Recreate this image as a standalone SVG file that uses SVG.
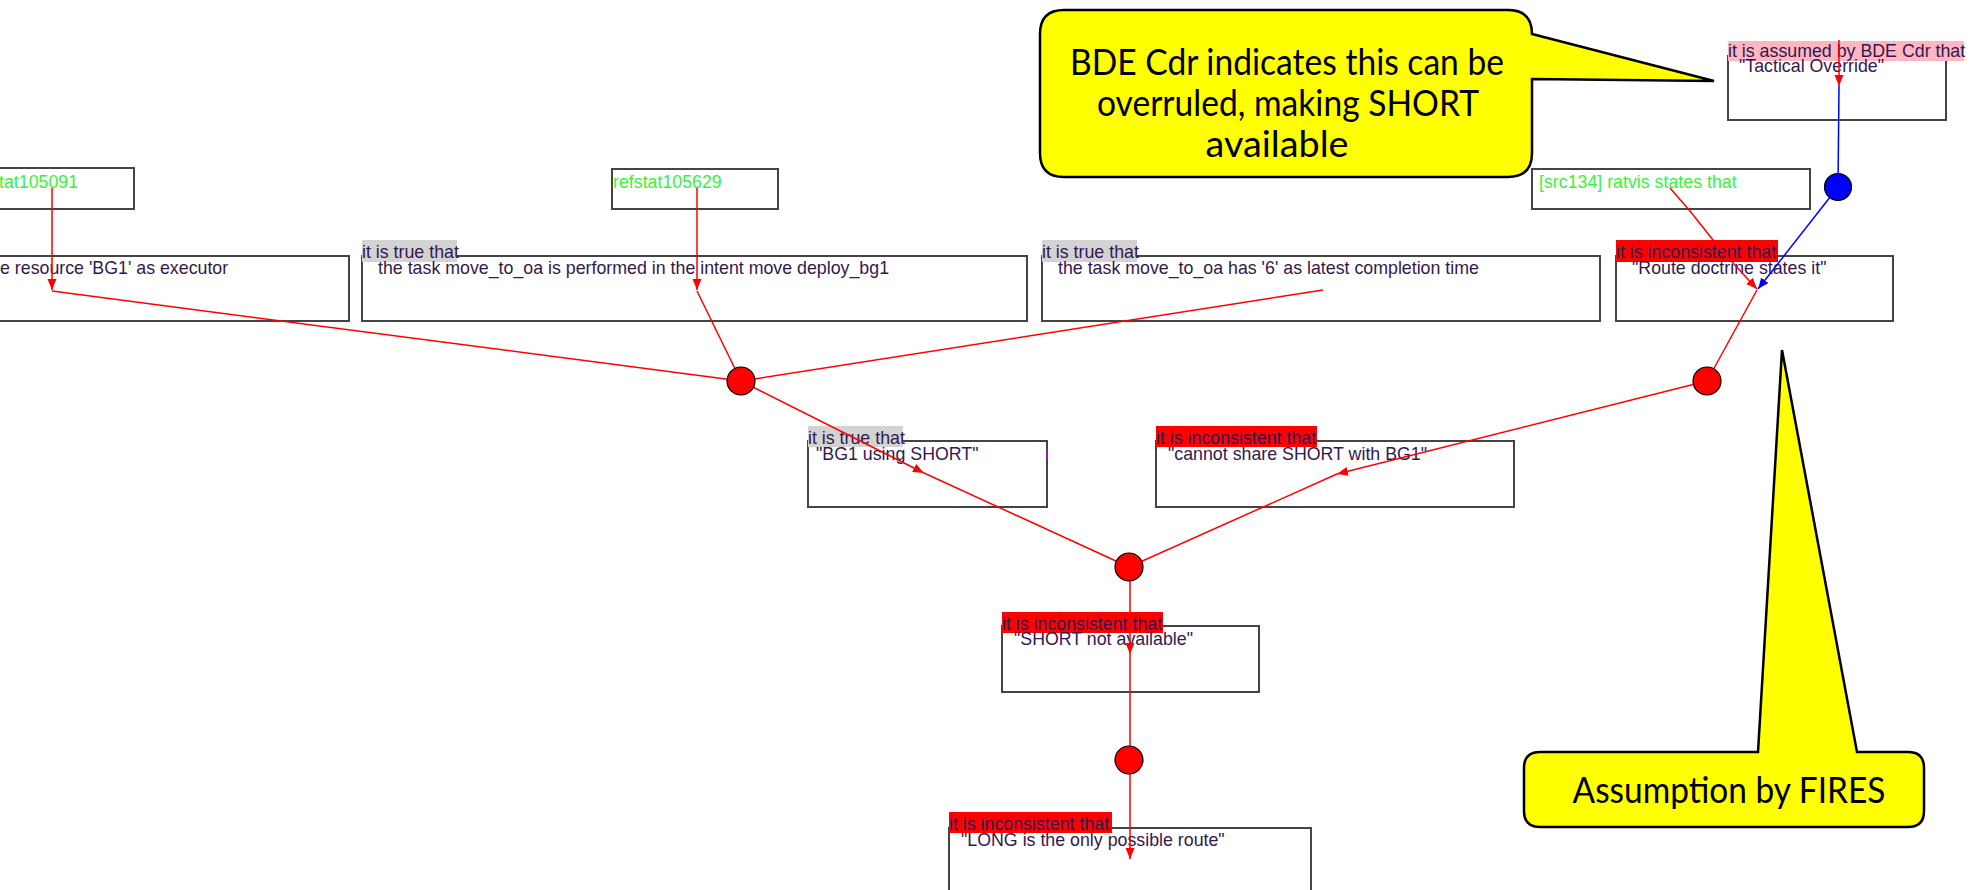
<svg xmlns="http://www.w3.org/2000/svg" width="1971" height="890" viewBox="0 0 1971 890">
  <defs>
    <style>
      .box { fill: #ffffff; stroke: #444444; stroke-width: 2; }
      .lbl-true { fill: #d3d3d3; }
      .lbl-bad { fill: #ff0000; }
      .lbl-assume { fill: #ffb6c1; }
      .txt { font-family: "Liberation Sans", Arial, sans-serif; font-size: 17.8px; fill: #33184f; }
      .src { font-family: "Liberation Sans", Arial, sans-serif; font-size: 17.8px; fill: #3cf03c; }
      .edge { fill: none; stroke: #ff0000; stroke-width: 1.5; }
      .edge-blue { fill: none; stroke: #0000ff; stroke-width: 1.5; }
      .dot { fill: #ff0000; stroke: #000000; stroke-width: 1.2; }
      .dot-blue { fill: #0000ff; stroke: #000000; stroke-width: 1.2; }
      .callout { fill: #ffff00; stroke: #000000; stroke-width: 2.5; stroke-linejoin: miter; }
      .callout-txt { font-family: Lato, "Open Sans", sans-serif; font-size: 36px; fill: #000000; text-anchor: middle; }
    </style>
    <marker id="arrow-red" markerUnits="userSpaceOnUse" markerWidth="12" markerHeight="10" refX="11" refY="4.5" orient="auto">
      <path d="M0,0 L11,4.5 L0,9 z" fill="#ff0000"/>
    </marker>
    <marker id="arrow-blue" markerUnits="userSpaceOnUse" markerWidth="12" markerHeight="10" refX="11" refY="4.5" orient="auto">
      <path d="M0,0 L11,4.5 L0,9 z" fill="#0000ff"/>
    </marker>
  </defs>

  <rect width="1971" height="890" fill="#ffffff"/>

  <!-- source nodes -->
  <g id="src-refstat105091">
    <rect class="box" x="-10" y="168" width="144" height="41"/>
    <text class="src" x="-1" y="188">tat105091</text>
  </g>
  <g id="src-refstat105629">
    <rect class="box" x="612" y="169" width="166" height="40"/>
    <text class="src" x="613" y="188">refstat105629</text>
  </g>
  <g id="src-src134">
    <rect class="box" x="1532" y="169" width="278" height="40"/>
    <text class="src" x="1539" y="188">[src134] ratvis states that</text>
  </g>

  <!-- statement nodes -->
  <g id="stmt-resource-bg1">
    <rect class="box" x="-10" y="256" width="359" height="65"/>
    <text class="txt" x="0" y="274">e resource 'BG1' as executor</text>
  </g>
  <g id="stmt-performed-in-intent">
    <rect class="box" x="362" y="256" width="665" height="65"/>
    <rect class="lbl-true" x="362" y="240" width="95" height="22"/>
    <text class="txt" x="362" y="258">it is true that</text>
    <text class="txt" x="378" y="274">the task move_to_oa is performed in the intent move deploy_bg1</text>
  </g>
  <g id="stmt-latest-completion">
    <rect class="box" x="1042" y="256" width="558" height="65"/>
    <rect class="lbl-true" x="1042" y="240" width="95" height="22"/>
    <text class="txt" x="1042" y="258">it is true that</text>
    <text class="txt" x="1058" y="274">the task move_to_oa has '6' as latest completion time</text>
  </g>
  <g id="stmt-route-doctrine">
    <rect class="box" x="1616" y="256" width="277" height="65"/>
    <rect class="lbl-bad" x="1616" y="240" width="162" height="22"/>
    <text class="txt" x="1616" y="258">it is inconsistent that</text>
    <text class="txt" x="1632" y="274">"Route doctrine states it"</text>
  </g>
  <g id="stmt-tactical-override">
    <rect class="box" x="1728" y="56" width="218" height="64"/>
    <rect class="lbl-assume" x="1728" y="41" width="236" height="20"/>
    <text class="txt" x="1728" y="57">it is assumed by BDE Cdr that</text>
    <text class="txt" x="1739" y="72">"Tactical Override"</text>
  </g>
  <g id="stmt-bg1-using-short">
    <rect class="box" x="808" y="441" width="239" height="66"/>
    <rect class="lbl-true" x="808" y="426" width="95" height="21"/>
    <text class="txt" x="808" y="444">it is true that</text>
    <text class="txt" x="816" y="460">"BG1 using SHORT"</text>
    <line x1="1047" y1="449" x2="1047" y2="459" stroke="#8a1fb0" stroke-width="2"/>
  </g>
  <g id="stmt-cannot-share">
    <rect class="box" x="1156" y="441" width="358" height="66"/>
    <rect class="lbl-bad" x="1156" y="426" width="161" height="21"/>
    <text class="txt" x="1156" y="444">it is inconsistent that</text>
    <text class="txt" x="1168" y="460">"cannot share SHORT with BG1"</text>
  </g>
  <g id="stmt-short-not-available">
    <rect class="box" x="1002" y="626" width="257" height="66"/>
    <rect class="lbl-bad" x="1002" y="612" width="161" height="21"/>
    <text class="txt" x="1002" y="630">it is inconsistent that</text>
    <text class="txt" x="1014" y="645">"SHORT not available"</text>
  </g>
  <g id="stmt-long-only-route">
    <rect class="box" x="949" y="828" width="362" height="80"/>
    <rect class="lbl-bad" x="949" y="812" width="163" height="21"/>
    <text class="txt" x="949" y="830">it is inconsistent that</text>
    <text class="txt" x="961" y="846">"LONG is the only possible route"</text>
  </g>

  <!-- connectors -->
  <g id="connectors">
    <line class="edge" x1="52" y1="188" x2="52" y2="290" marker-end="url(#arrow-red)"/>
    <line class="edge" x1="697" y1="188" x2="697" y2="290" marker-end="url(#arrow-red)"/>
    <line class="edge" x1="52" y1="291" x2="741" y2="381"/>
    <line class="edge" x1="697" y1="291" x2="741" y2="381"/>
    <line class="edge" x1="1323" y1="290" x2="741" y2="381"/>
    <line class="edge" x1="741" y1="381" x2="924" y2="473" marker-end="url(#arrow-red)"/>
    <line class="edge" x1="924" y1="473" x2="1129" y2="567"/>
    <polyline class="edge" points="1670,188 1690,211 1713,240 1733,263 1757,289" marker-end="url(#arrow-red)"/>
    <line class="edge-blue" x1="1838" y1="187" x2="1758" y2="289" marker-end="url(#arrow-blue)"/>
    <line class="edge" x1="1757" y1="290" x2="1707" y2="381"/>
    <line class="edge" x1="1707" y1="381" x2="1337" y2="474" marker-end="url(#arrow-red)"/>
    <line class="edge" x1="1337" y1="474" x2="1129" y2="567"/>
    <line class="edge" x1="1130" y1="567" x2="1130" y2="654" marker-end="url(#arrow-red)"/>
    <line class="edge" x1="1130" y1="654" x2="1130" y2="760"/>
    <line class="edge" x1="1130" y1="760" x2="1130" y2="859" marker-end="url(#arrow-red)"/>
    <line class="edge" x1="1839" y1="40" x2="1839" y2="86" marker-end="url(#arrow-red)"/>
    <line class="edge-blue" x1="1839" y1="86" x2="1838" y2="187"/>
  </g>

  <!-- junction nodes -->
  <g id="junction-1"><circle class="dot" cx="741" cy="381" r="14"/></g>
  <g id="junction-2"><circle class="dot" cx="1707" cy="381" r="14"/></g>
  <g id="junction-3"><circle class="dot" cx="1129" cy="567" r="14"/></g>
  <g id="junction-4"><circle class="dot" cx="1129" cy="760" r="14"/></g>
  <g id="junction-assumption"><circle class="dot-blue" cx="1838" cy="187" r="13.5"/></g>

  <!-- annotation callouts -->
  <g id="callout-bde-cdr">
    <path class="callout" d="M1064,10 L1508,10 Q1532,10 1532,34 L1714,81 L1532,79 L1532,153 Q1532,177 1508,177 L1064,177 Q1040,177 1040,153 L1040,34 Q1040,10 1064,10 Z"/>
    <text class="callout-txt" x="1287" y="75" textLength="434" lengthAdjust="spacingAndGlyphs">BDE Cdr indicates this can be</text>
    <text class="callout-txt" x="1288" y="116" textLength="382" lengthAdjust="spacingAndGlyphs">overruled, making SHORT</text>
    <text class="callout-txt" x="1277" y="157" textLength="143" lengthAdjust="spacingAndGlyphs">available</text>
  </g>
  <g id="callout-fires">
    <path class="callout" d="M1540,752 L1758,752 L1782,350 L1857,752 L1908,752 Q1924,752 1924,768 L1924,811 Q1924,827 1908,827 L1540,827 Q1524,827 1524,811 L1524,768 Q1524,752 1540,752 Z"/>
    <text class="callout-txt" x="1729" y="803" textLength="313" lengthAdjust="spacingAndGlyphs">Assumption by FIRES</text>
  </g>
</svg>
